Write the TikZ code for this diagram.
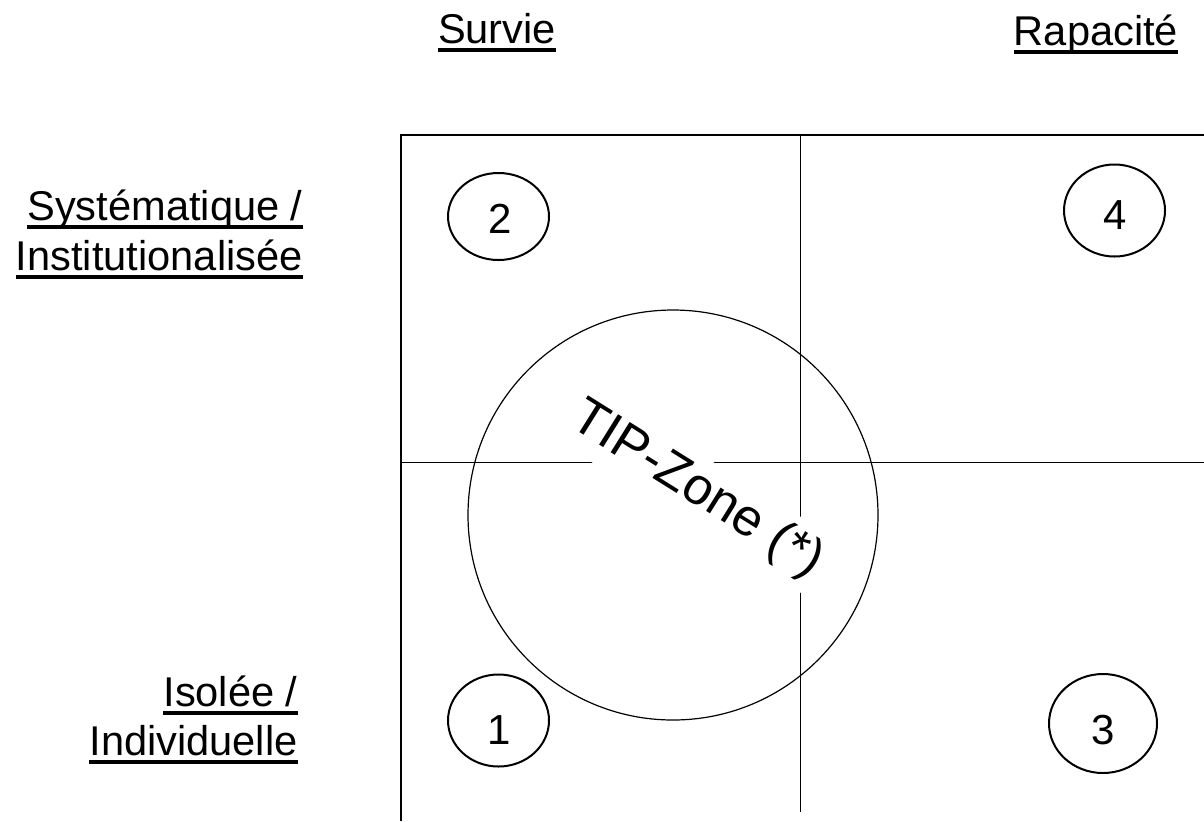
\documentclass[tikz,border=0pt]{standalone}
\usepackage{fontspec}
\setmainfont{Liberation Sans}
\usetikzlibrary{shapes.geometric}
\newcommand{\ulab}[1]{\setbox0=\hbox{#1}\rlap{\rule[-4.4pt]{\wd0}{1.9pt}}\box0}
\tikzset{
  lab/.style={font=\fontsize{20.8}{25}\selectfont, inner sep=0pt},
  quad/.style={draw, ellipse, line width=1pt, inner sep=0pt,
    minimum width=50.5pt, minimum height=46pt},
  num/.style={font=\fontsize{21}{25}\selectfont, inner sep=0pt},
  frame/.style={line width=1pt},
  axis/.style={line width=0.5pt},
}
\begin{document}
\begin{tikzpicture}[x=0.5pt, y=-0.5pt]
    \useasboundingbox (0,0) rectangle (1204,821);
    % axes of the four quadrants
    \draw[axis] (401,462) -- (1204,462);
    \draw[axis] (800,135) -- (800,812);
    % the zone, on a white band that cuts the axes
    \node[fill=white, rotate=-32, inner sep=4pt, font=\fontsize{26}{31}\selectfont] (zone) at (697,490) {TIP-Zone (*)};
    \draw[line width=0.6pt] (673,515) circle[radius=102.5pt];
    % frame
    \draw[frame] (401,821) |- (1204,135);
    % quadrants
    \node[quad] (q1) at (498.5,720.5) {};
    \node[quad, minimum height=43.5pt] (q2) at (498.5,216.5) {};
    \node[quad, minimum width=54pt, minimum height=49.5pt] (q3) at (1103,723.5) {};
    \node[quad] (q4) at (1114.5,210.5) {};
    \node[num] (n1) at (499,730) {1};
    \node[num] (n2) at (500,219) {2};
    \node[num] (n3) at (1103,730) {3};
    \node[num] (n4) at (1115,215) {4};
    % labels
    \node[lab, anchor=base] (survie) at (497,43) {\ulab{Survie}};
    \node[lab, anchor=base] (rapacite) at (1096,45) {\ulab{Rapacité}};
    \node[lab, anchor=base east] (syst) at (303,220) {\ulab{Systématique /}};
    \node[lab, anchor=base east] (inst) at (303,270) {\ulab{Institutionalisée}};
    \node[lab, anchor=base east] (isol) at (298,706) {\ulab{Isolée /}};
    \node[lab, anchor=base east] (indiv) at (298,755) {\ulab{Individuelle}};
\end{tikzpicture}
\end{document}
